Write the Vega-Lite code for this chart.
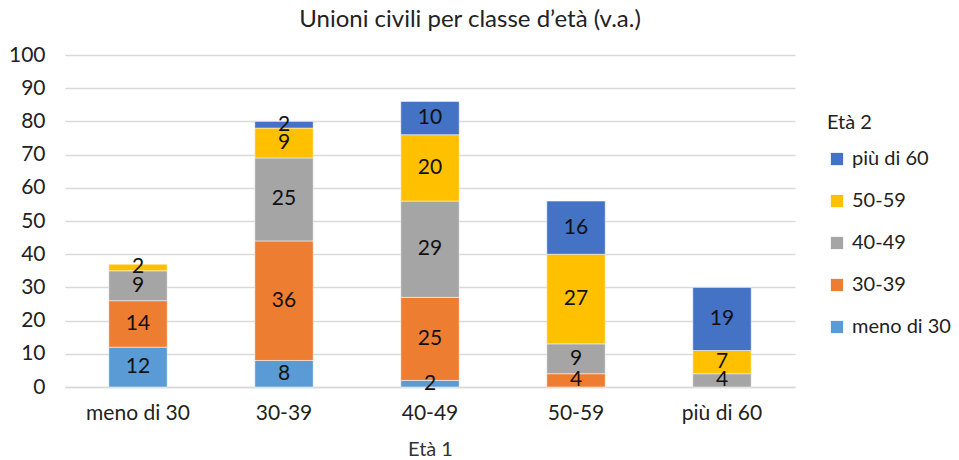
{
  "$schema": "https://vega.github.io/schema/vega-lite/v6.json",
  "autosize": {"type": "none"},
  "width": 730,
  "height": 332,
  "padding": {"left": 65, "top": 55, "right": 164, "bottom": 73},
  "background": "white",
  "config": {
    "font": "Lato",
    "view": {"stroke": null}
  },
  "title": {
    "text": "Unioni civili per classe d’età (v.a.)",
    "fontSize": 24,
    "fontWeight": "normal",
    "color": "#222222",
    "anchor": "middle",
    "dx": 40,
    "offset": 12
  },
  "data": {
    "values": [
      {"e1": "meno di 30", "e2": "meno di 30", "rank": 1, "v": 12},
      {"e1": "meno di 30", "e2": "30-39", "rank": 2, "v": 14},
      {"e1": "meno di 30", "e2": "40-49", "rank": 3, "v": 9},
      {"e1": "meno di 30", "e2": "50-59", "rank": 4, "v": 2},
      {"e1": "30-39", "e2": "meno di 30", "rank": 1, "v": 8},
      {"e1": "30-39", "e2": "30-39", "rank": 2, "v": 36},
      {"e1": "30-39", "e2": "40-49", "rank": 3, "v": 25},
      {"e1": "30-39", "e2": "50-59", "rank": 4, "v": 9},
      {"e1": "30-39", "e2": "più di 60", "rank": 5, "v": 2},
      {"e1": "40-49", "e2": "meno di 30", "rank": 1, "v": 2},
      {"e1": "40-49", "e2": "30-39", "rank": 2, "v": 25},
      {"e1": "40-49", "e2": "40-49", "rank": 3, "v": 29},
      {"e1": "40-49", "e2": "50-59", "rank": 4, "v": 20},
      {"e1": "40-49", "e2": "più di 60", "rank": 5, "v": 10},
      {"e1": "50-59", "e2": "30-39", "rank": 2, "v": 4},
      {"e1": "50-59", "e2": "40-49", "rank": 3, "v": 9},
      {"e1": "50-59", "e2": "50-59", "rank": 4, "v": 27},
      {"e1": "50-59", "e2": "più di 60", "rank": 5, "v": 16},
      {"e1": "più di 60", "e2": "40-49", "rank": 3, "v": 4},
      {"e1": "più di 60", "e2": "50-59", "rank": 4, "v": 7},
      {"e1": "più di 60", "e2": "più di 60", "rank": 5, "v": 19}
    ]
  },
  "encoding": {
    "x": {
      "field": "e1",
      "type": "nominal",
      "sort": ["meno di 30", "30-39", "40-49", "50-59", "più di 60"],
      "scale": {"paddingInner": 0.6, "paddingOuter": 0.3},
      "axis": {
        "title": "Età 1",
        "titleFont": "Lato",
        "titleFontSize": 20,
        "titleFontWeight": "normal",
        "titleColor": "#333333",
        "titlePadding": 16,
        "labelAngle": 0,
        "labelFontSize": 21,
        "labelColor": "#222222",
        "labelPadding": 15,
        "ticks": false,
        "domain": true,
        "domainColor": "#D9D9D9",
        "domainWidth": 1.5
      }
    },
    "y": {
      "field": "v",
      "type": "quantitative",
      "stack": "zero",
      "scale": {"domain": [0, 100]},
      "axis": {
        "title": null,
        "values": [0, 10, 20, 30, 40, 50, 60, 70, 80, 90, 100],
        "labelFontSize": 21,
        "labelColor": "#222222",
        "labelPadding": 20,
        "ticks": false,
        "domain": false,
        "grid": true,
        "gridColor": "#D9D9D9",
        "gridWidth": 1.5
      }
    },
    "order": {"field": "rank", "type": "quantitative", "sort": "ascending"}
  },
  "layer": [
    {
      "mark": {"type": "bar", "stroke": "white", "strokeWidth": 0.5},
      "encoding": {
        "color": {
          "field": "e2",
          "type": "nominal",
          "scale": {
            "domain": ["più di 60", "50-59", "40-49", "30-39", "meno di 30"],
            "range": ["#4472C4", "#FFC000", "#A5A5A5", "#ED7D31", "#5B9BD5"]
          },
          "legend": {
            "title": "Età 2",
            "orient": "none",
            "legendX": 762,
            "legendY": 58,
            "titleFontSize": 20,
            "titleFontWeight": "normal",
            "titleColor": "#222222",
            "titlePadding": 16,
            "labelFontSize": 20,
            "labelColor": "#222222",
            "symbolType": "square",
            "symbolSize": 150,
            "symbolStrokeWidth": 0,
            "rowPadding": 22,
            "labelOffset": 5
          }
        }
      }
    },
    {
      "mark": {"type": "text", "fontSize": 21, "color": "#111111", "baseline": "middle"},
      "encoding": {
        "y": {"field": "v", "type": "quantitative", "stack": "zero", "bandPosition": 0.5},
        "text": {"field": "v", "type": "quantitative"}
      }
    }
  ]
}
